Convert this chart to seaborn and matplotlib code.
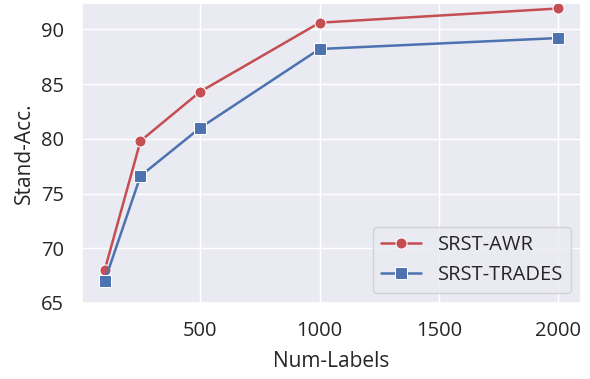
import matplotlib
matplotlib.use("Agg")
import matplotlib.pyplot as plt
import seaborn as sns
import pandas as pd

num_labels = [100, 250, 500, 1000, 2000]
srst_awr = [68.0, 79.8, 84.3, 90.6, 91.9]
srst_trades = [67.0, 76.6, 81.0, 88.2, 89.2]
series_names = ["SRST-AWR", "SRST-TRADES"]

sns.set_theme(style="darkgrid")
plt.rcParams["font.family"] = ["Open Sans", "DejaVu Sans"]

df = pd.DataFrame({
    "Num-Labels": num_labels * 2,
    "Stand-Acc.": srst_awr + srst_trades,
    "Method": [series_names[0]] * len(num_labels) + [series_names[1]] * len(num_labels),
})

fig = plt.figure(figsize=(5.9, 3.79), dpi=100)
ax = fig.add_axes([82 / 590, 1 - 303 / 379, (581 - 82) / 590, 300 / 379])

sns.lineplot(data=df, x="Num-Labels", y="Stand-Acc.", hue="Method", style="Method",
             markers=["o", "s"], dashes=False, palette=["#c44e52", "#4c72b0"],
             markersize=8, linewidth=1.8, ax=ax)

ax.set_ylim(65.2, 92.4)
ax.set_yticks([65, 70, 75, 80, 85, 90])
ax.set_xticks([500, 1000, 1500, 2000])
ax.tick_params(labelsize=14.5, pad=7)
ax.set_xlabel("Num-Labels", fontsize=15, labelpad=7)
ax.set_ylabel("Stand-Acc.", fontsize=15, labelpad=4)
ax.legend(loc="lower right", fontsize=14.5, title=None)

fig.savefig("out.png", dpi=100)
